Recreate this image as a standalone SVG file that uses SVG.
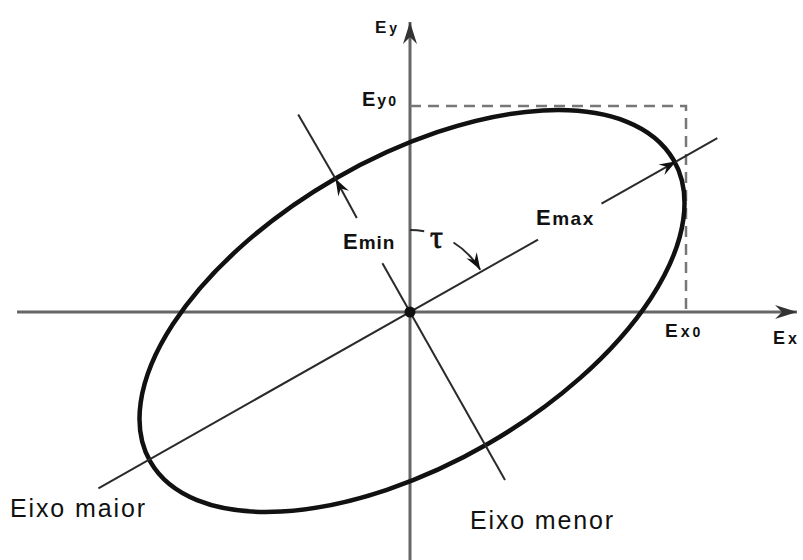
<svg xmlns="http://www.w3.org/2000/svg" width="803" height="560" viewBox="0 0 803 560">
<defs>
<style>
.axis{stroke:#666;stroke-width:3;fill:none}
.line{stroke:#2a2a2a;stroke-width:2;fill:none}
.dash{stroke:#777;stroke-width:2.5;fill:none;stroke-dasharray:11 7}
.lbl{font-family:"Liberation Sans",Arial,sans-serif;font-weight:bold;fill:#111}
.cap{font-family:"Liberation Sans",Arial,sans-serif;fill:#111;font-size:25px}
</style>
<marker id="big" markerUnits="userSpaceOnUse" markerWidth="30" markerHeight="20" viewBox="-24 -10 30 20" refX="0" refY="0" orient="auto">
<path d="M0,0 L-22,-7 L-15,0 L-22,7 Z" fill="#333"/>
</marker>
<marker id="small" markerUnits="userSpaceOnUse" markerWidth="22" markerHeight="16" viewBox="-20 -8 22 16" refX="0" refY="0" orient="auto">
<path d="M0,0 L-17,-6 L-11,0 L-17,6 Z" fill="#111"/>
</marker>
</defs>
<rect width="803" height="560" fill="#fff"/>
<g id="axes">
<line class="axis" x1="17" y1="312" x2="797" y2="312" marker-end="url(#big)"/>
<line class="axis" x1="410" y1="560" x2="410" y2="22" marker-end="url(#big)"/>
</g>
<g id="bounds">
<polyline class="dash" points="410,106 686,106 686,312"/>
</g>
<g id="ellipse">
<ellipse cx="412" cy="311" rx="302" ry="153" transform="rotate(-30 412 311)" fill="none" stroke="#111" stroke-width="4.5"/>
</g>
<g id="connectors">
<line class="line" x1="98.4" y1="488.3" x2="538" y2="239.6"/>
<line class="line" x1="601.5" y1="203.7" x2="676.3" y2="161.3" marker-end="url(#small)"/>
<line class="line" x1="676.3" y1="161.3" x2="717.3" y2="138.2"/>
<line class="line" x1="505" y1="480" x2="382.4" y2="263.3"/>
<line class="line" x1="356.8" y1="218" x2="335.5" y2="178.8" marker-end="url(#small)"/>
<line class="line" x1="335.5" y1="178.8" x2="298.2" y2="114.4"/>
<path class="line" d="M410,230 A82,82 0 0,1 424.2,231.2"/>
<path class="line" d="M453.5,242.5 A82,82 0 0,1 480.3,269.8" marker-end="url(#small)"/>
</g>
<g id="origin">
<circle cx="410" cy="312" r="5.5" fill="#111"/>
</g>
<g id="labels">
<text class="lbl" x="375" y="33" font-size="17" letter-spacing="3">E<tspan font-size="14">y</tspan></text>
<text class="lbl" x="362" y="106" font-size="20" letter-spacing="2">E<tspan font-size="16">y</tspan><tspan font-size="14">0</tspan></text>
<text class="lbl" x="343" y="249" font-size="22" letter-spacing="1">E<tspan font-size="19">min</tspan></text>
<text class="lbl" x="536" y="225" font-size="22" letter-spacing="1.5">E<tspan font-size="19">max</tspan></text>
<text class="lbl" x="665" y="337" font-size="19" letter-spacing="3">E<tspan font-size="16">x</tspan><tspan font-size="14">0</tspan></text>
<text class="lbl" x="773" y="344" font-size="18" letter-spacing="3">E<tspan font-size="16">x</tspan></text>
<text x="430" y="248" font-family="'Liberation Serif','DejaVu Serif',serif" font-size="32" fill="#111" stroke="#111" stroke-width="0.8">τ</text>
<text class="cap" x="10" y="517" textLength="135" lengthAdjust="spacing">Eixo maior</text>
<text class="cap" x="470" y="529" textLength="143" lengthAdjust="spacing">Eixo menor</text>
</g>
</svg>
